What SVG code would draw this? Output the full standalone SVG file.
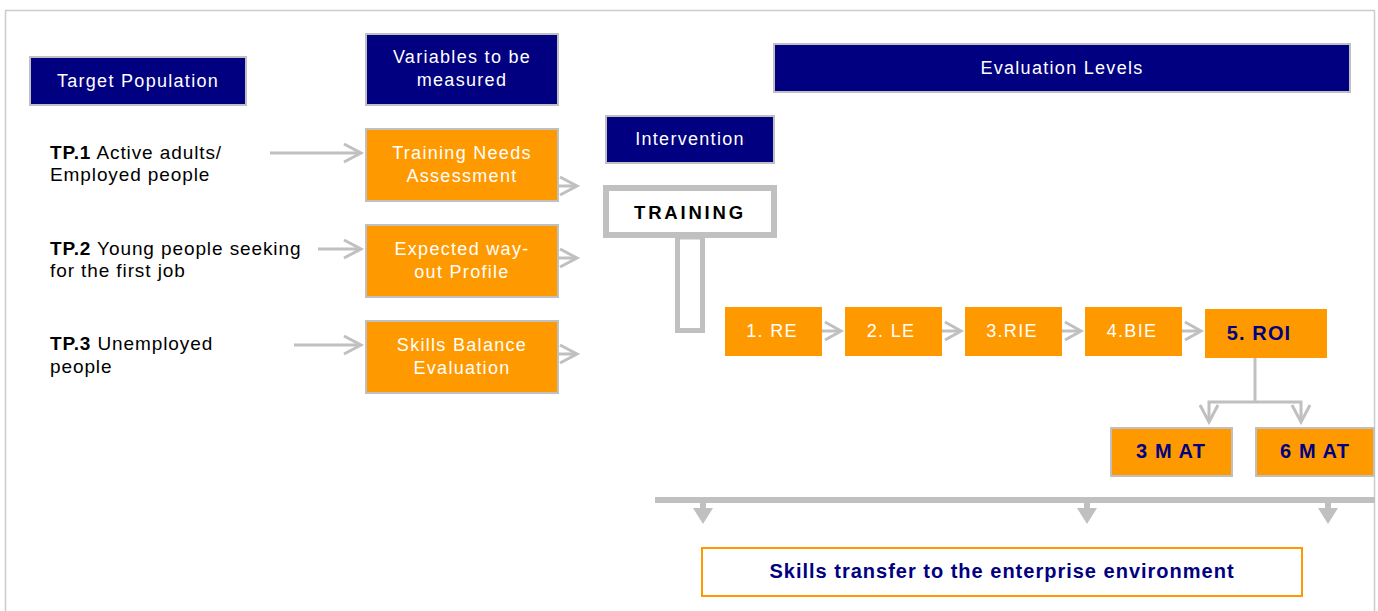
<svg xmlns="http://www.w3.org/2000/svg" width="1378" height="611" viewBox="0 0 1378 611">
<style>
text{font-family:"Liberation Sans",Arial,sans-serif;font-size:18px;letter-spacing:1.3px}
.hdr{fill:#000080;stroke:#c0c0c0;stroke-width:2}
.org{fill:#ff9900;stroke:#c0c0c0;stroke-width:2}
.lvl{fill:#ff9900}
.w{fill:#ffffff;text-anchor:middle}
.nb{fill:#000080;font-weight:bold;text-anchor:middle;font-size:20px;letter-spacing:1.1px}
.blk{fill:#000000;font-size:19px;letter-spacing:0.9px}
.ln{stroke:#c0c0c0;stroke-width:3;fill:none}
.chev{stroke:#c0c0c0;stroke-width:3;fill:none;stroke-linejoin:miter}
</style>
<rect x="5.5" y="10.5" width="1369" height="640" fill="#ffffff" stroke="#cccccc" stroke-width="1.5"/>

<g id="target-population"><rect class="hdr" x="30" y="57" width="216" height="48"/><text class="w" x="138" y="87">Target Population</text></g>
<g id="variables"><rect class="hdr" x="366" y="34" width="192" height="71"/><text class="w" x="462" y="63">Variables to be</text><text class="w" x="462" y="86">measured</text></g>
<g id="evaluation-levels"><rect class="hdr" x="774" y="44" width="576" height="48"/><text class="w" x="1062" y="74">Evaluation Levels</text></g>
<g id="intervention"><rect class="hdr" x="606" y="116" width="168" height="47"/><text class="w" x="690" y="145">Intervention</text></g>

<g id="tp1"><text class="blk" x="50" y="159"><tspan font-weight="bold">TP.1</tspan> Active adults/</text><text class="blk" x="50" y="181">Employed people</text></g>
<g id="tp2"><text class="blk" x="50" y="255"><tspan font-weight="bold">TP.2</tspan> Young people seeking</text><text class="blk" x="50" y="277">for the first job</text></g>
<g id="tp3"><text class="blk" x="50" y="350"><tspan font-weight="bold">TP.3</tspan> Unemployed</text><text class="blk" x="50" y="373">people</text></g>

<g id="tna"><rect class="org" x="366" y="129" width="192" height="72"/><text class="w" x="462" y="159">Training Needs</text><text class="w" x="462" y="182">Assessment</text></g>
<g id="ewp"><rect class="org" x="366" y="225" width="192" height="72"/><text class="w" x="462" y="255">Expected way-</text><text class="w" x="462" y="278">out Profile</text></g>
<g id="sbe"><rect class="org" x="366" y="321" width="192" height="72"/><text class="w" x="462" y="351">Skills Balance</text><text class="w" x="462" y="374">Evaluation</text></g>

<g id="training">
<rect x="606" y="188" width="168" height="47" fill="#ffffff" stroke="#c0c0c0" stroke-width="6"/>
<text x="690" y="219" text-anchor="middle" font-weight="bold" style="fill:#000000;letter-spacing:2.8px;font-size:18.5px">TRAINING</text>
<rect x="677.5" y="237" width="25" height="93.5" fill="#ffffff" stroke="#c0c0c0" stroke-width="5"/>
</g>

<g id="re"><rect class="lvl" x="725" y="307" width="97" height="49"/><text class="w" x="772" y="337">1. RE</text></g>
<g id="le"><rect class="lvl" x="845" y="307" width="97" height="49"/><text class="w" x="891" y="337">2. LE</text></g>
<g id="rie"><rect class="lvl" x="965" y="307" width="97" height="49"/><text class="w" x="1012" y="337">3.RIE</text></g>
<g id="bie"><rect class="lvl" x="1085" y="307" width="97" height="49"/><text class="w" x="1132" y="337">4.BIE</text></g>
<g id="roi"><rect class="lvl" x="1205" y="309" width="122" height="49"/><text class="nb" x="1259" y="340">5. ROI</text></g>
<g id="m3"><rect class="org" x="1111" y="428" width="121" height="48"/><text class="nb" x="1171" y="458">3 M AT</text></g>
<g id="m6"><rect class="org" x="1256" y="428" width="118" height="48"/><text class="nb" x="1315" y="458">6 M AT</text></g>

<g id="skills-transfer"><rect x="702" y="548" width="600" height="48" fill="#ffffff" stroke="#ff9900" stroke-width="2"/><text class="nb" x="1002" y="578" style="letter-spacing:1px">Skills transfer to the enterprise environment</text></g>

<g id="connectors">
<line class="ln" x1="270" y1="153" x2="361" y2="153"/><polyline class="chev" points="344,144 361,153 344,162"/>
<line class="ln" x1="318" y1="249" x2="361" y2="249"/><polyline class="chev" points="344,240 361,249 344,258"/>
<line class="ln" x1="294" y1="345" x2="361" y2="345"/><polyline class="chev" points="344,336 361,345 344,354"/>
<line class="ln" x1="558" y1="186" x2="577" y2="186"/><polyline class="chev" points="560,177 577,186 560,195"/>
<line class="ln" x1="558" y1="258" x2="577" y2="258"/><polyline class="chev" points="560,249 577,258 560,267"/>
<line class="ln" x1="558" y1="354" x2="577" y2="354"/><polyline class="chev" points="560,345 577,354 560,363"/>
<line class="ln" x1="822" y1="331" x2="841" y2="331"/><polyline class="chev" points="825,322 841,331 825,340"/>
<line class="ln" x1="942" y1="331" x2="961" y2="331"/><polyline class="chev" points="945,322 961,331 945,340"/>
<line class="ln" x1="1062" y1="331" x2="1081" y2="331"/><polyline class="chev" points="1065,322 1081,331 1065,340"/>
<line class="ln" x1="1182" y1="331" x2="1201" y2="331"/><polyline class="chev" points="1185,322 1201,331 1185,340"/>
<polyline class="ln" points="1255,358 1255,402"/>
<polyline class="ln" points="1209,422 1209,402 1301,402 1301,422"/>
<polyline class="chev" points="1200,405 1209,422 1218,405"/>
<polyline class="chev" points="1292,405 1301,422 1310,405"/>
<line x1="655" y1="500" x2="1375" y2="500" stroke="#c0c0c0" stroke-width="6"/>
<path d="M700 502h6v6h7l-10 16l-10-16h7z" fill="#c0c0c0"/>
<path d="M1084 502h6v6h7l-10 16l-10-16h7z" fill="#c0c0c0"/>
<path d="M1325 502h6v6h7l-10 16l-10-16h7z" fill="#c0c0c0"/>
</g>
</svg>
